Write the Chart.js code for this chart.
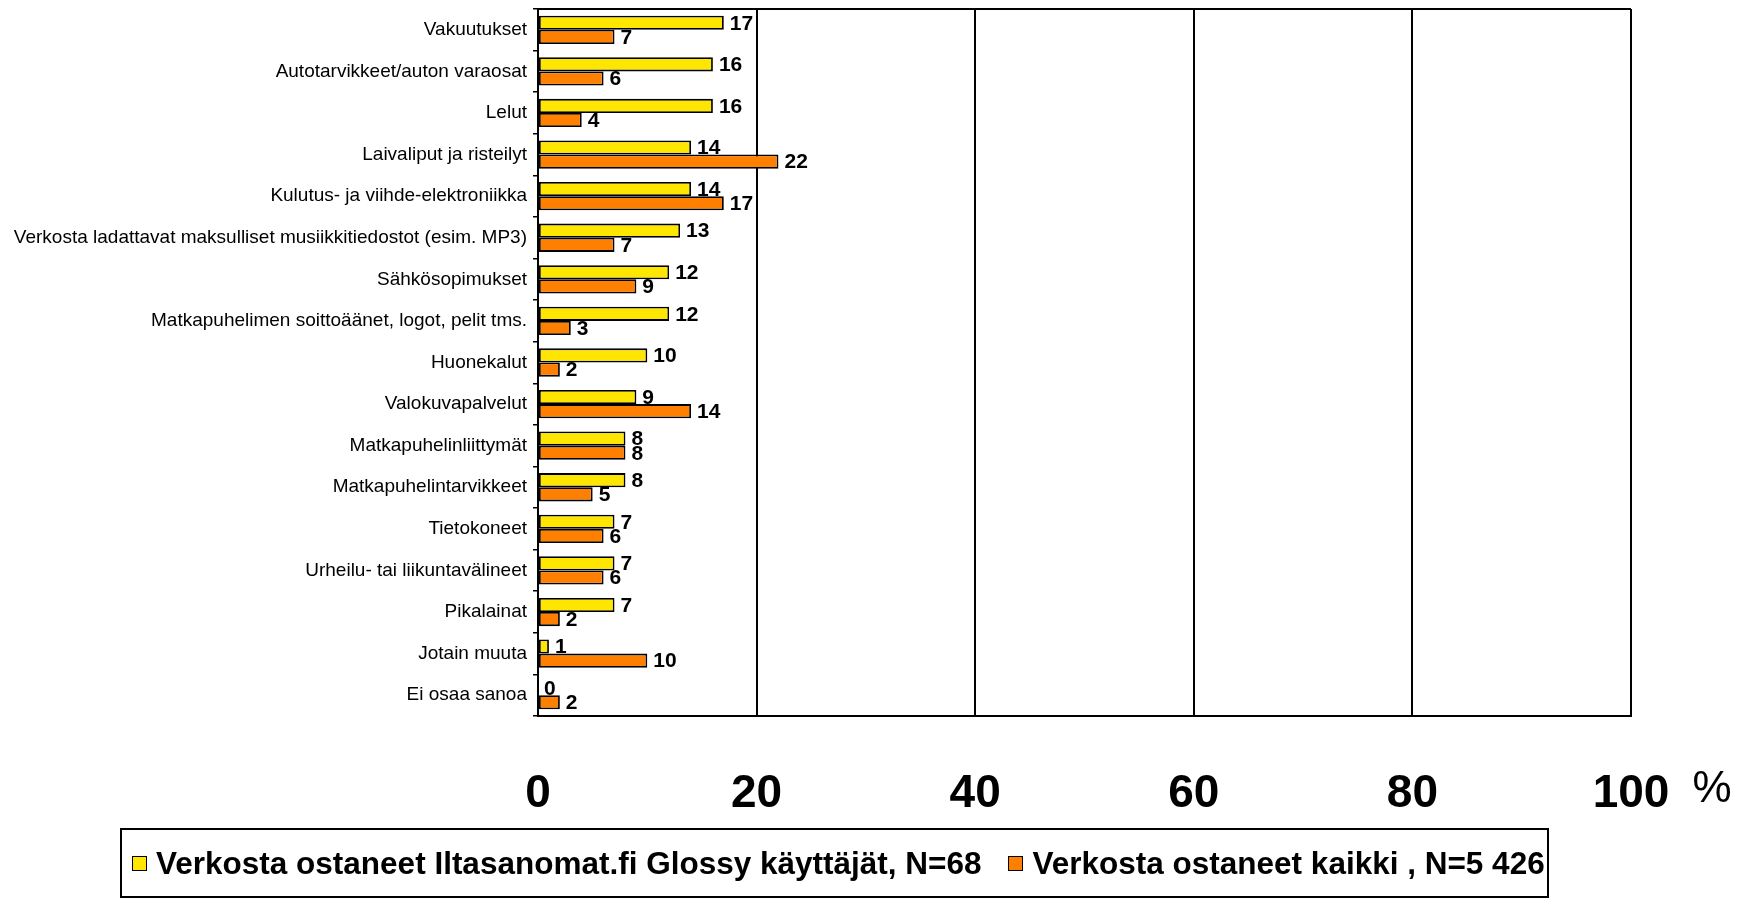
<!DOCTYPE html>
<html>
<head>
<meta charset="utf-8">
<script src="https://cdn.jsdelivr.net/npm/chart.js@4.4.1/dist/chart.umd.min.js"></script>
<style>
  html, body { margin: 0; padding: 0; background: #fff; }
  #wrap { position: relative; width: 1756px; height: 904px; }
  #legend {
    position: absolute; left: 120px; top: 828px; width: 1425px; height: 66px;
    border: 2px solid #000; box-sizing: content-box;
    font: bold 31.5px 'Liberation Sans', Arial, sans-serif;
    display: flex; align-items: center; white-space: nowrap;
  }
  #legend .item { display: flex; align-items: center; }
  #legend .sw { width: 13px; height: 13px; border: 1.5px solid #000; margin: 0 9px 0 10px; }
</style>
</head>
<body>
<div id="wrap">
  <canvas id="c" width="1756" height="904"></canvas>
  <div id="legend"></div>
</div>
<script>
const CATEGORIES = [
  'Vakuutukset',
  'Autotarvikkeet/auton varaosat',
  'Lelut',
  'Laivaliput ja risteilyt',
  'Kulutus- ja viihde-elektroniikka',
  'Verkosta ladattavat maksulliset musiikkitiedostot (esim. MP3)',
  'Sähkösopimukset',
  'Matkapuhelimen soittoäänet, logot, pelit tms.',
  'Huonekalut',
  'Valokuvapalvelut',
  'Matkapuhelinliittymät',
  'Matkapuhelintarvikkeet',
  'Tietokoneet',
  'Urheilu- tai liikuntavälineet',
  'Pikalainat',
  'Jotain muuta',
  'Ei osaa sanoa',
];
const GLOSSY = [17, 16, 16, 14, 14, 13, 12, 12, 10, 9, 8, 8, 7, 7, 7, 1, 0];
const ALL    = [7, 6, 4, 22, 17, 7, 9, 3, 2, 14, 8, 5, 6, 6, 2, 10, 2];
const SERIES = [
  'Verkosta ostaneet Iltasanomat.fi Glossy käyttäjät, N=68',
  'Verkosta ostaneet kaikki , N=5 426',
];
const COLORS = ['#FFE600', '#FF8000'];
const X_MIN = 0, X_MAX = 100, X_STEP = 20;

const SANS = "'Liberation Sans', Arial, sans-serif";

// value labels at bar ends, frame top line and the "%" unit
const extras = {
  id: 'extras',
  afterDatasetsDraw(chart) {
    const ctx = chart.ctx;
    ctx.save();
    ctx.font = 'bold 21px ' + SANS;
    ctx.fillStyle = '#000';
    ctx.textAlign = 'left';
    ctx.textBaseline = 'middle';
    chart.data.datasets.forEach((ds, di) => {
      chart.getDatasetMeta(di).data.forEach((bar, i) => {
        ctx.fillText(String(ds.data[i]), bar.x + 6, bar.y + 1);
      });
    });
    const a = chart.chartArea;
    ctx.strokeStyle = '#000';
    ctx.lineWidth = 2;
    ctx.beginPath();
    ctx.moveTo(a.left, a.top);
    ctx.lineTo(a.right, a.top);
    ctx.stroke();
    ctx.font = '44px ' + SANS;
    ctx.textAlign = 'center';
    ctx.fillText('%', 1712, 790);
    ctx.restore();
  },
};

const chart = new Chart(document.getElementById('c'), {
  type: 'bar',
  data: {
    labels: CATEGORIES,
    datasets: SERIES.map((label, k) => ({
      label,
      data: k === 0 ? GLOSSY : ALL,
      backgroundColor: COLORS[k],
      borderColor: '#000',
      borderWidth: 1.8,
      borderSkipped: false,
      categoryPercentage: 0.68,
      barPercentage: 1.0,
    })),
  },
  plugins: [extras],
  options: {
    indexAxis: 'y',
    responsive: false,
    animation: false,
    layout: { padding: { top: 9, right: 125, bottom: 0, left: 0 } },
    plugins: { legend: { display: false }, tooltip: { enabled: false } },
    scales: {
      x: {
        min: X_MIN, max: X_MAX,
        ticks: { stepSize: X_STEP, color: '#000', padding: 51, font: { family: SANS, size: 46, weight: 'bold' } },
        grid: { color: '#000', lineWidth: 2, drawTicks: false },
        border: { color: '#000', width: 2 },
        afterFit(s) { s.height = 188; },
      },
      y: {
        ticks: { color: '#000', padding: 6, autoSkip: false, font: { family: SANS, size: 19 } },
        grid: { drawOnChartArea: false, color: '#000', lineWidth: 1.5, tickLength: 5, offset: true },
        border: { color: '#000', width: 2 },
        afterFit(s) { s.width = 538; s.paddingTop = 0; s.paddingBottom = 0; },
      },
    },
  },
});

const legend = document.getElementById('legend');
chart.data.datasets.forEach((ds, k) => {
  const item = document.createElement('div');
  item.className = 'item';
  const sw = document.createElement('span');
  sw.className = 'sw';
  sw.style.background = ds.backgroundColor;
  const tx = document.createElement('span');
  tx.textContent = ds.label;
  item.appendChild(sw);
  item.appendChild(tx);
  if (k > 0) item.style.marginLeft = '17px';
  legend.appendChild(item);
});
</script>
</body>
</html>
